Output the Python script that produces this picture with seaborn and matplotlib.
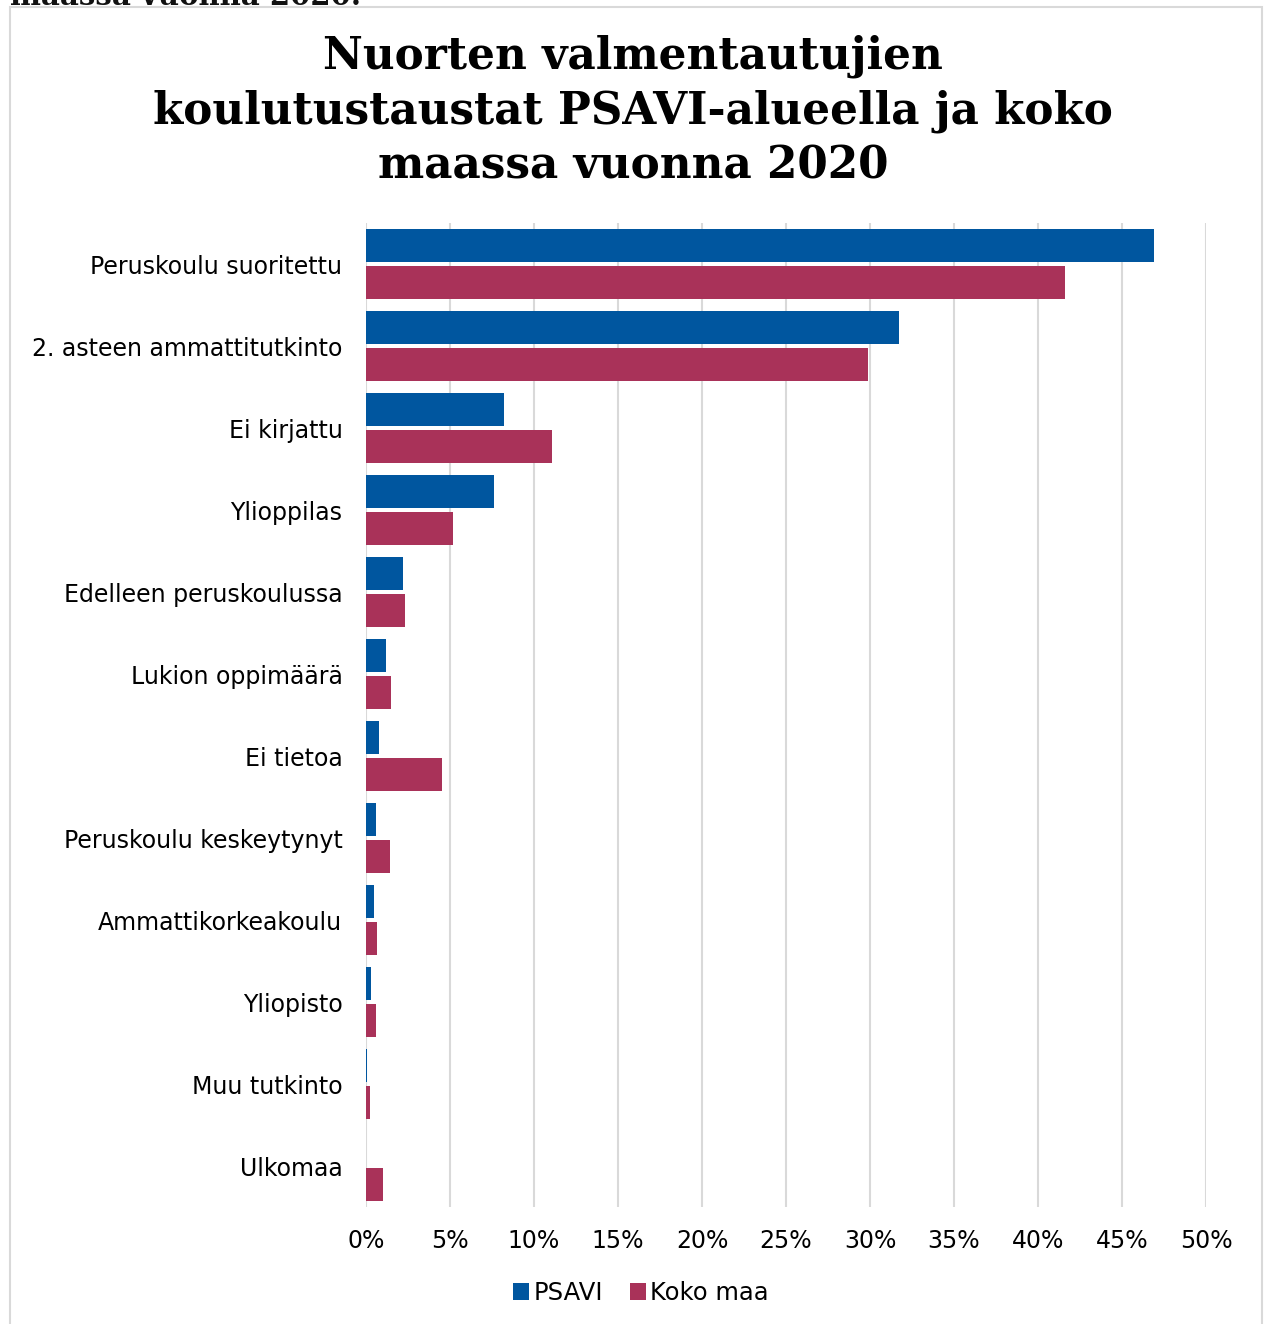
import pandas as pd
import matplotlib.pyplot as plt
import seaborn as sns
from matplotlib.patches import Rectangle

categories = ['Peruskoulu suoritettu', '2. asteen ammattitutkinto', 'Ei kirjattu', 'Ylioppilas',
              'Edelleen peruskoulussa', 'Lukion oppimäärä', 'Ei tietoa', 'Peruskoulu keskeytynyt',
              'Ammattikorkeakoulu', 'Yliopisto', 'Muu tutkinto', 'Ulkomaa']
psavi = [46.9, 31.7, 8.2, 7.6, 2.2, 1.2, 0.8, 0.6, 0.5, 0.3, 0.08, 0.0]
koko_maa = [41.6, 29.9, 11.1, 5.2, 2.3, 1.5, 4.5, 1.4, 0.65, 0.6, 0.24, 1.0]
series = ['PSAVI', 'Koko maa']
colors = ['#00569F', '#A93259']
ticks = [0, 5, 10, 15, 20, 25, 30, 35, 40, 45, 50]

df = pd.DataFrame({
    'kategoria': categories * 2,
    'osuus': psavi + koko_maa,
    'sarja': [series[0]] * len(categories) + [series[1]] * len(categories),
})

sns.set_style('white')
plt.rcParams['font.family'] = ['DejaVu Sans']
plt.rcParams['text.color'] = 'black'
plt.rcParams['xtick.color'] = 'black'
plt.rcParams['ytick.color'] = 'black'

fig = plt.figure(figsize=(12.66, 13.24), dpi=100)
ax = fig.add_axes([366 / 1266, 1 - 1207 / 1324, 840 / 1266, (1207 - 223) / 1324])

sns.barplot(data=df, x='osuus', y='kategoria', hue='sarja', orient='h',
            palette=colors, width=0.925, gap=0.13, saturation=1, linewidth=0,
            ax=ax, legend=True)

ax.set_xlim(0, 50)
ax.set_xticks(ticks)
ax.set_xticklabels([f'{t}%' for t in ticks], fontsize=17)
ax.tick_params(axis='y', labelsize=17, length=0, pad=17)
ax.tick_params(axis='x', length=0, pad=16)
ax.set_xlabel('')
ax.set_ylabel('')
ax.grid(axis='x', color='#d9d9d9', linewidth=1.5)
ax.set_axisbelow(True)
for s in ax.spines.values():
    s.set_visible(False)

ax.legend(loc='center', bbox_to_anchor=(0.5 + 8 / 1266, 1 - 1293 / 1324),
          bbox_transform=fig.transFigure, ncol=2, frameon=False, fontsize=17.5,
          handlelength=0.65, handleheight=0.65, handletextpad=0.2, columnspacing=1.1)

fig.text(0.5, 1 - 111 / 1324, 'Nuorten valmentautujien\nkoulutustaustat PSAVI-alueella ja koko\nmaassa vuonna 2020',
         ha='center', va='center', fontsize=31.5, fontweight='bold', family='DejaVu Serif',
         linespacing=1.33)

# clipped text of the surrounding document above the chart
fig.text(10 / 1266, 1 - 5 / 1324, 'maassa vuonna 2020.', ha='left', va='baseline',
         fontsize=21, fontweight='bold', family='DejaVu Serif', color='#111111')

fig.patches.append(Rectangle((10 / 1266, -0.02), 1252 / 1266, 1 - 7 / 1324 + 0.02,
                             transform=fig.transFigure, fill=False,
                             edgecolor='#d9d9d9', linewidth=1.5))

fig.savefig('out.png', dpi=100)
